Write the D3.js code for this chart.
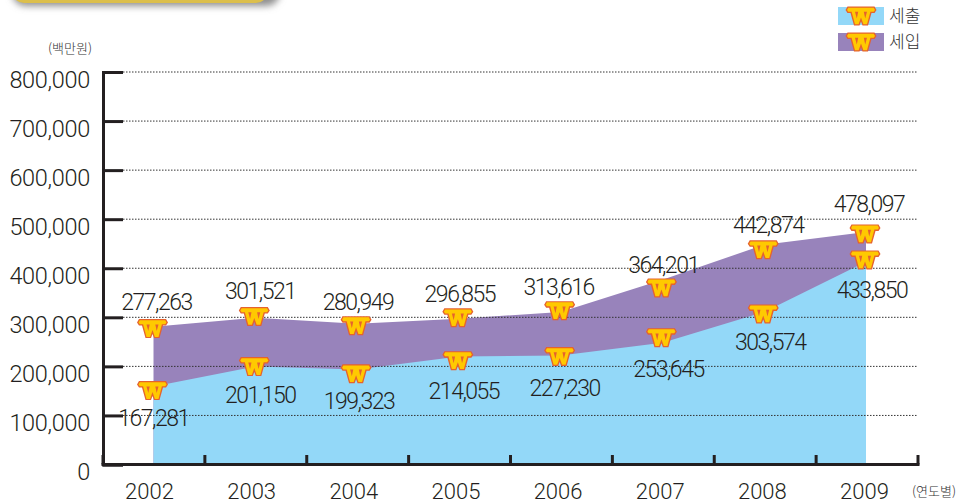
<!DOCTYPE html>
<html><head><meta charset="utf-8">
<script src="https://cdnjs.cloudflare.com/ajax/libs/d3/7.8.5/d3.min.js"></script>
<style>html,body{margin:0;padding:0;background:#fff}svg{display:block}</style>
</head><body><svg id="c" width="957" height="504"></svg>
<script>
const years = ["2002","2003","2004","2005","2006","2007","2008","2009"];
const yTicks = [0,100000,200000,300000,400000,500000,600000,700000,800000];
// printed labels
const exportLabels = ["167,281","201,150","199,323","214,055","227,230","253,645","303,574","433,850"];
const incomeLabels = ["277,263","301,521","280,949","296,855","313,616","364,201","442,874","478,097"];
// plotted heights as drawn in the picture
const exportPlotted = [159000,199500,193400,220000,222000,248000,311000,413000];
const incomePlotted = [281000,299000,287000,297000,311000,376600,448000,474000];
// coin symbol heights as drawn in the picture
const exportCoin = [150600,199500,185000,211700,220000,258500,307000,417000];
const incomeCoin = [277000,301521,283000,299000,313600,360000,437600,470000];
// label offsets from coin symbols [dx, dy]
const exportLabelOffset = [[1,27],[6,28],[3,27],[6,30],[5,31],[7,31],[7,28],[7,30]];
const incomeLabelOffset = [[4,-27],[6,-26],[2,-24],[2,-24],[-1,-24],[2,-23],[5,-25],[4,-30]];
const legendItems = ["세출","세입"];
const colors = {exp:"#93d8f8", inc:"#9883bb", ink:"#231f20"};

const svg = d3.select("#c");
const fontLatin = "Roboto,'Liberation Sans',Arial,sans-serif";
const fontKr = "'Noto Sans CJK KR','Noto Sans',sans-serif";
const y = d3.scaleLinear().domain([0,800000]).range([464.5,72]);
const x = d3.scalePoint().domain(years).range([153.5,866]);
const band = d3.scaleBand().domain(years).range([103,918]);
const xLabel = d3.scalePoint().domain(years).range([149,864]);

// banner
const defs = svg.append("defs");
const f = defs.append("filter").attr("id","sh").attr("x","-10%").attr("y","-100%").attr("width","120%").attr("height","400%");
f.append("feGaussianBlur").attr("stdDeviation",3.5);
svg.append("rect").attr("x",12).attr("y",-30).attr("width",268).attr("height",36).attr("rx",14).attr("fill","#8f8f8f").attr("filter","url(#sh)");
svg.append("rect").attr("x",12).attr("y",-30).attr("width",256).attr("height",33).attr("rx",12).attr("fill","#dcbf4c");

// areas
const area = d3.area().x((d,i)=>x(years[i])).y0(y(0)).y1(d=>y(d));
svg.append("path").attr("d",area(incomePlotted)).attr("fill",colors.inc);
svg.append("path").attr("d",area(exportPlotted)).attr("fill",colors.exp);

// dotted grid
svg.append("g").selectAll("line").data(yTicks.filter(d=>d>0)).join("line")
  .attr("x1",123).attr("x2",918).attr("y1",d=>y(d)).attr("y2",d=>y(d))
  .attr("stroke","#333").attr("stroke-width",1).attr("stroke-dasharray","1.5,1.5");

// y axis
const yAxis = svg.append("g").attr("transform","translate(103,0)")
  .call(d3.axisLeft(y).tickValues(yTicks).tickFormat(d3.format(",")).tickSize(-20).tickPadding(-1));
yAxis.select(".domain").attr("stroke",colors.ink).attr("stroke-width",3);
yAxis.selectAll(".tick line").attr("stroke",colors.ink).attr("stroke-width",3);
yAxis.selectAll(".tick text").attr("x",-13).attr("dy","0.36em").attr("y",7)
  .attr("font-family",fontLatin).attr("font-weight",300).attr("font-size",23.5).attr("letter-spacing",-0.3).attr("fill",colors.ink);

// x axis: boundary ticks
const edges = years.map(d=>band(d)).concat([band.range()[1]]);
svg.append("g").selectAll("line").data(edges).join("line")
  .attr("x1",d=>d).attr("x2",d=>d).attr("y1",455).attr("y2",y(0))
  .attr("stroke",colors.ink).attr("stroke-width",3);
svg.append("line").attr("x1",101.5).attr("x2",919.5).attr("y1",y(0)).attr("y2",y(0))
  .attr("stroke",colors.ink).attr("stroke-width",3);
const xAxis = svg.append("g").attr("transform","translate(0,491)")
  .call(d3.axisBottom(xLabel).tickSize(0).tickPadding(0));
xAxis.select(".domain").remove();
xAxis.selectAll(".tick text").attr("y",0).attr("dy","0.36em")
  .attr("font-family",fontLatin).attr("font-weight",300).attr("font-size",22).attr("fill",colors.ink);

// coin symbol
const coinOuter = "M-15.5,-6 L-13.5,-9.5 L13.5,-9.5 L15.5,-6 L13.5,-3 L10.5,-3 L7,9.5 L1.5,9.5 L0,5.5 L-1.5,9.5 L-7,9.5 L-10.5,-3 L-13.5,-3 Z";
const coinInner = "M-14,-6 L-12.7,-8.3 L12.7,-8.3 L14,-6 L12.7,-4.3 L9.4,-4.3 L6,8.3 L2.4,8.3 L0,1.5 L-2.4,8.3 L-6,8.3 L-9.4,-4.3 L-12.7,-4.3 Z";
const coinNotch = "M-6,-4.2 L-2.8,-4.2 L-4.2,2.5 Z M2.8,-4.2 L6,-4.2 L4.2,2.5 Z";
function coin(g,px,py){
  const c = g.append("g").attr("transform",`translate(${px},${py})`);
  c.append("path").attr("d",coinOuter).attr("fill","#e5622e");
  c.append("path").attr("d",coinInner).attr("fill","#ffc900");
  c.append("path").attr("d",coinNotch).attr("fill","#e5622e");
}

// value labels and coins
const labelLayer = svg.append("g"), coinLayer = svg.append("g");
function series(vals,labels,offsets){
  vals.forEach((v,i)=>{
    const px = x(years[i])-1, py = y(v);
    labelLayer.append("text").attr("x",px+offsets[i][0]).attr("y",py+offsets[i][1]).attr("dy","0.36em")
      .attr("text-anchor","middle").attr("font-family",fontLatin).attr("font-weight",300).attr("font-size",23)
      .attr("letter-spacing",-1.5).attr("fill",colors.ink).text(labels[i]);
    coin(coinLayer,px,py);
  });
}
series(exportCoin,exportLabels,exportLabelOffset);
series(incomeCoin,incomeLabels,incomeLabelOffset);

// legend
const lg = svg.append("g");
legendItems.forEach((t,i)=>{
  const ly = 7+26*i;
  lg.append("rect").attr("x",838).attr("y",ly).attr("width",46).attr("height",18).attr("fill",i?colors.inc:colors.exp);
  coin(lg,861,ly+9);
  lg.append("text").attr("x",889).attr("y",ly+9).attr("dy","0.36em").attr("font-family",fontKr).attr("font-weight",300).attr("font-size",17)
    .attr("fill","#333").text(t);
});

// units
svg.append("text").attr("x",92).attr("y",48).attr("dy","0.36em").attr("text-anchor","end")
  .attr("font-family",fontKr).attr("font-weight",300).attr("font-size",13).attr("fill","#333").text("(백만원)");
svg.append("text").attr("x",956).attr("y",491).attr("dy","0.36em").attr("text-anchor","end")
  .attr("font-family",fontKr).attr("font-weight",300).attr("font-size",13).attr("fill","#333").text("(연도별)");
</script></body></html>
